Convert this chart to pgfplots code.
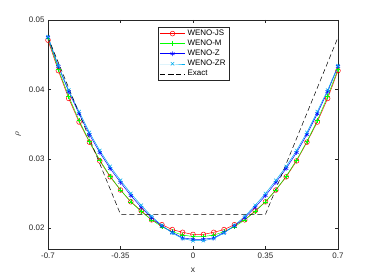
\documentclass[border=0pt]{standalone}
\usepackage{pgfplots}
\pgfplotsset{compat=1.18}
\usepackage{fontspec}
\setmainfont{Liberation Sans}
\definecolor{axgray}{rgb}{0.15,0.15,0.15}
\begin{document}
\begin{tikzpicture}
\path[use as bounding box] (-48bp,-31bp) rectangle (326bp,249bp);
\begin{axis}[at={(0,0)}, anchor=south west, scale only axis,
  width=290bp, height=229bp,
  xmin=-0.7, xmax=0.7, ymin=0.017, ymax=0.05,
  scaled x ticks=false, scaled y ticks=false,
  xtick={-0.7,-0.35,0,0.35,0.7}, xticklabels={-0.7,-0.35,0,0.35,0.7},
  ytick={0.02,0.03,0.04,0.05}, yticklabels={0.02,0.03,0.04,0.05},
  tick align=inside, major tick length=3bp,
  axis line style={axgray, line width=0.5pt},
  every tick/.style={axgray, line width=0.5pt},
  tick label style={font=\fontsize{8}{9}\selectfont, text=axgray},
  /pgf/number format/assume math mode=true,
  xlabel={x}, ylabel={$\rho$},
  xlabel style={at={(axis description cs:0.5,-0.092)}, anchor=center, font=\fontsize{8.5}{9}\selectfont, text=axgray},
  ylabel style={at={(axis description cs:-0.103,0.5)}, anchor=center, font=\fontsize{9}{9}\selectfont, text=axgray},
  legend style={at={(0.502,0.971)}, anchor=north, draw=axgray, line width=0.5pt,
    font=\fontsize{8}{8.5}\selectfont, inner sep=1.2pt, row sep=-1pt, cells={anchor=west}},
  legend image code/.code={\draw[mark repeat=2,mark phase=2,#1] plot coordinates {(0cm,0cm) (0.45cm,0cm) (0.9cm,0cm)};},
]
\addplot[red, line width=0.5pt, mark=o, mark size=2.4pt] coordinates {
(-0.70,0.0471) (-0.65,0.0427) (-0.60,0.0387) (-0.55,0.0353) (-0.50,0.0324)
(-0.45,0.0297) (-0.40,0.0274) (-0.35,0.0255) (-0.30,0.0238) (-0.25,0.0225)
(-0.20,0.0212) (-0.15,0.0205) (-0.10,0.0198) (-0.05,0.0194) (0.00,0.0191)
(0.05,0.0191) (0.10,0.0194) (0.15,0.0198) (0.20,0.0205) (0.25,0.0212)
(0.30,0.0225) (0.35,0.0238) (0.40,0.0255) (0.45,0.0274) (0.50,0.0297)
(0.55,0.0324) (0.60,0.0353) (0.65,0.0387) (0.70,0.0427)};
\addlegendentry{WENO-JS}
\addplot[green, line width=0.5pt, mark=+, mark size=2.4pt] coordinates {
(-0.70,0.0474) (-0.65,0.0429) (-0.60,0.0390) (-0.55,0.0355) (-0.50,0.0325)
(-0.45,0.0298) (-0.40,0.0275) (-0.35,0.0255) (-0.30,0.0238) (-0.25,0.0224)
(-0.20,0.0212) (-0.15,0.0202) (-0.10,0.0195) (-0.05,0.0190) (0.00,0.0188)
(0.05,0.0188) (0.10,0.0190) (0.15,0.0195) (0.20,0.0202) (0.25,0.0212)
(0.30,0.0224) (0.35,0.0238) (0.40,0.0255) (0.45,0.0275) (0.50,0.0298)
(0.55,0.0325) (0.60,0.0355) (0.65,0.0390) (0.70,0.0429)};
\addlegendentry{WENO-M}
\addplot[blue, line width=0.5pt, mark=asterisk, mark size=2.4pt] coordinates {
(-0.70,0.0475) (-0.65,0.0433) (-0.60,0.0397) (-0.55,0.0365) (-0.50,0.0335)
(-0.45,0.0309) (-0.40,0.0286) (-0.35,0.0266) (-0.30,0.0247) (-0.25,0.0230)
(-0.20,0.0215) (-0.15,0.0203) (-0.10,0.0194) (-0.05,0.0186) (0.00,0.0184)
(0.05,0.0184) (0.10,0.0186) (0.15,0.0194) (0.20,0.0203) (0.25,0.0215)
(0.30,0.0230) (0.35,0.0247) (0.40,0.0266) (0.45,0.0286) (0.50,0.0309)
(0.55,0.0335) (0.60,0.0365) (0.65,0.0397) (0.70,0.0433)};
\addlegendentry{WENO-Z}
\addplot[cyan, line width=0.5pt, mark=x, mark size=2.4pt] coordinates {
(-0.70,0.0476) (-0.65,0.0434) (-0.60,0.0399) (-0.55,0.0368) (-0.50,0.0338)
(-0.45,0.0312) (-0.40,0.0289) (-0.35,0.0269) (-0.30,0.0250) (-0.25,0.0233)
(-0.20,0.0217) (-0.15,0.0204) (-0.10,0.0193) (-0.05,0.0185) (0.00,0.0182)
(0.05,0.0182) (0.10,0.0185) (0.15,0.0193) (0.20,0.0204) (0.25,0.0217)
(0.30,0.0233) (0.35,0.0250) (0.40,0.0269) (0.45,0.0289) (0.50,0.0312)
(0.55,0.0338) (0.60,0.0368) (0.65,0.0399) (0.70,0.0434)};
\addlegendentry{WENO-ZR}
\addplot[black, line width=0.5pt, dash pattern=on 5bp off 3bp] coordinates {
(-0.70,0.0475) (-0.35,0.0220) (0.35,0.0220) (0.70,0.0475)};
\addlegendentry{Exact}
\end{axis}
\end{tikzpicture}
\end{document}
